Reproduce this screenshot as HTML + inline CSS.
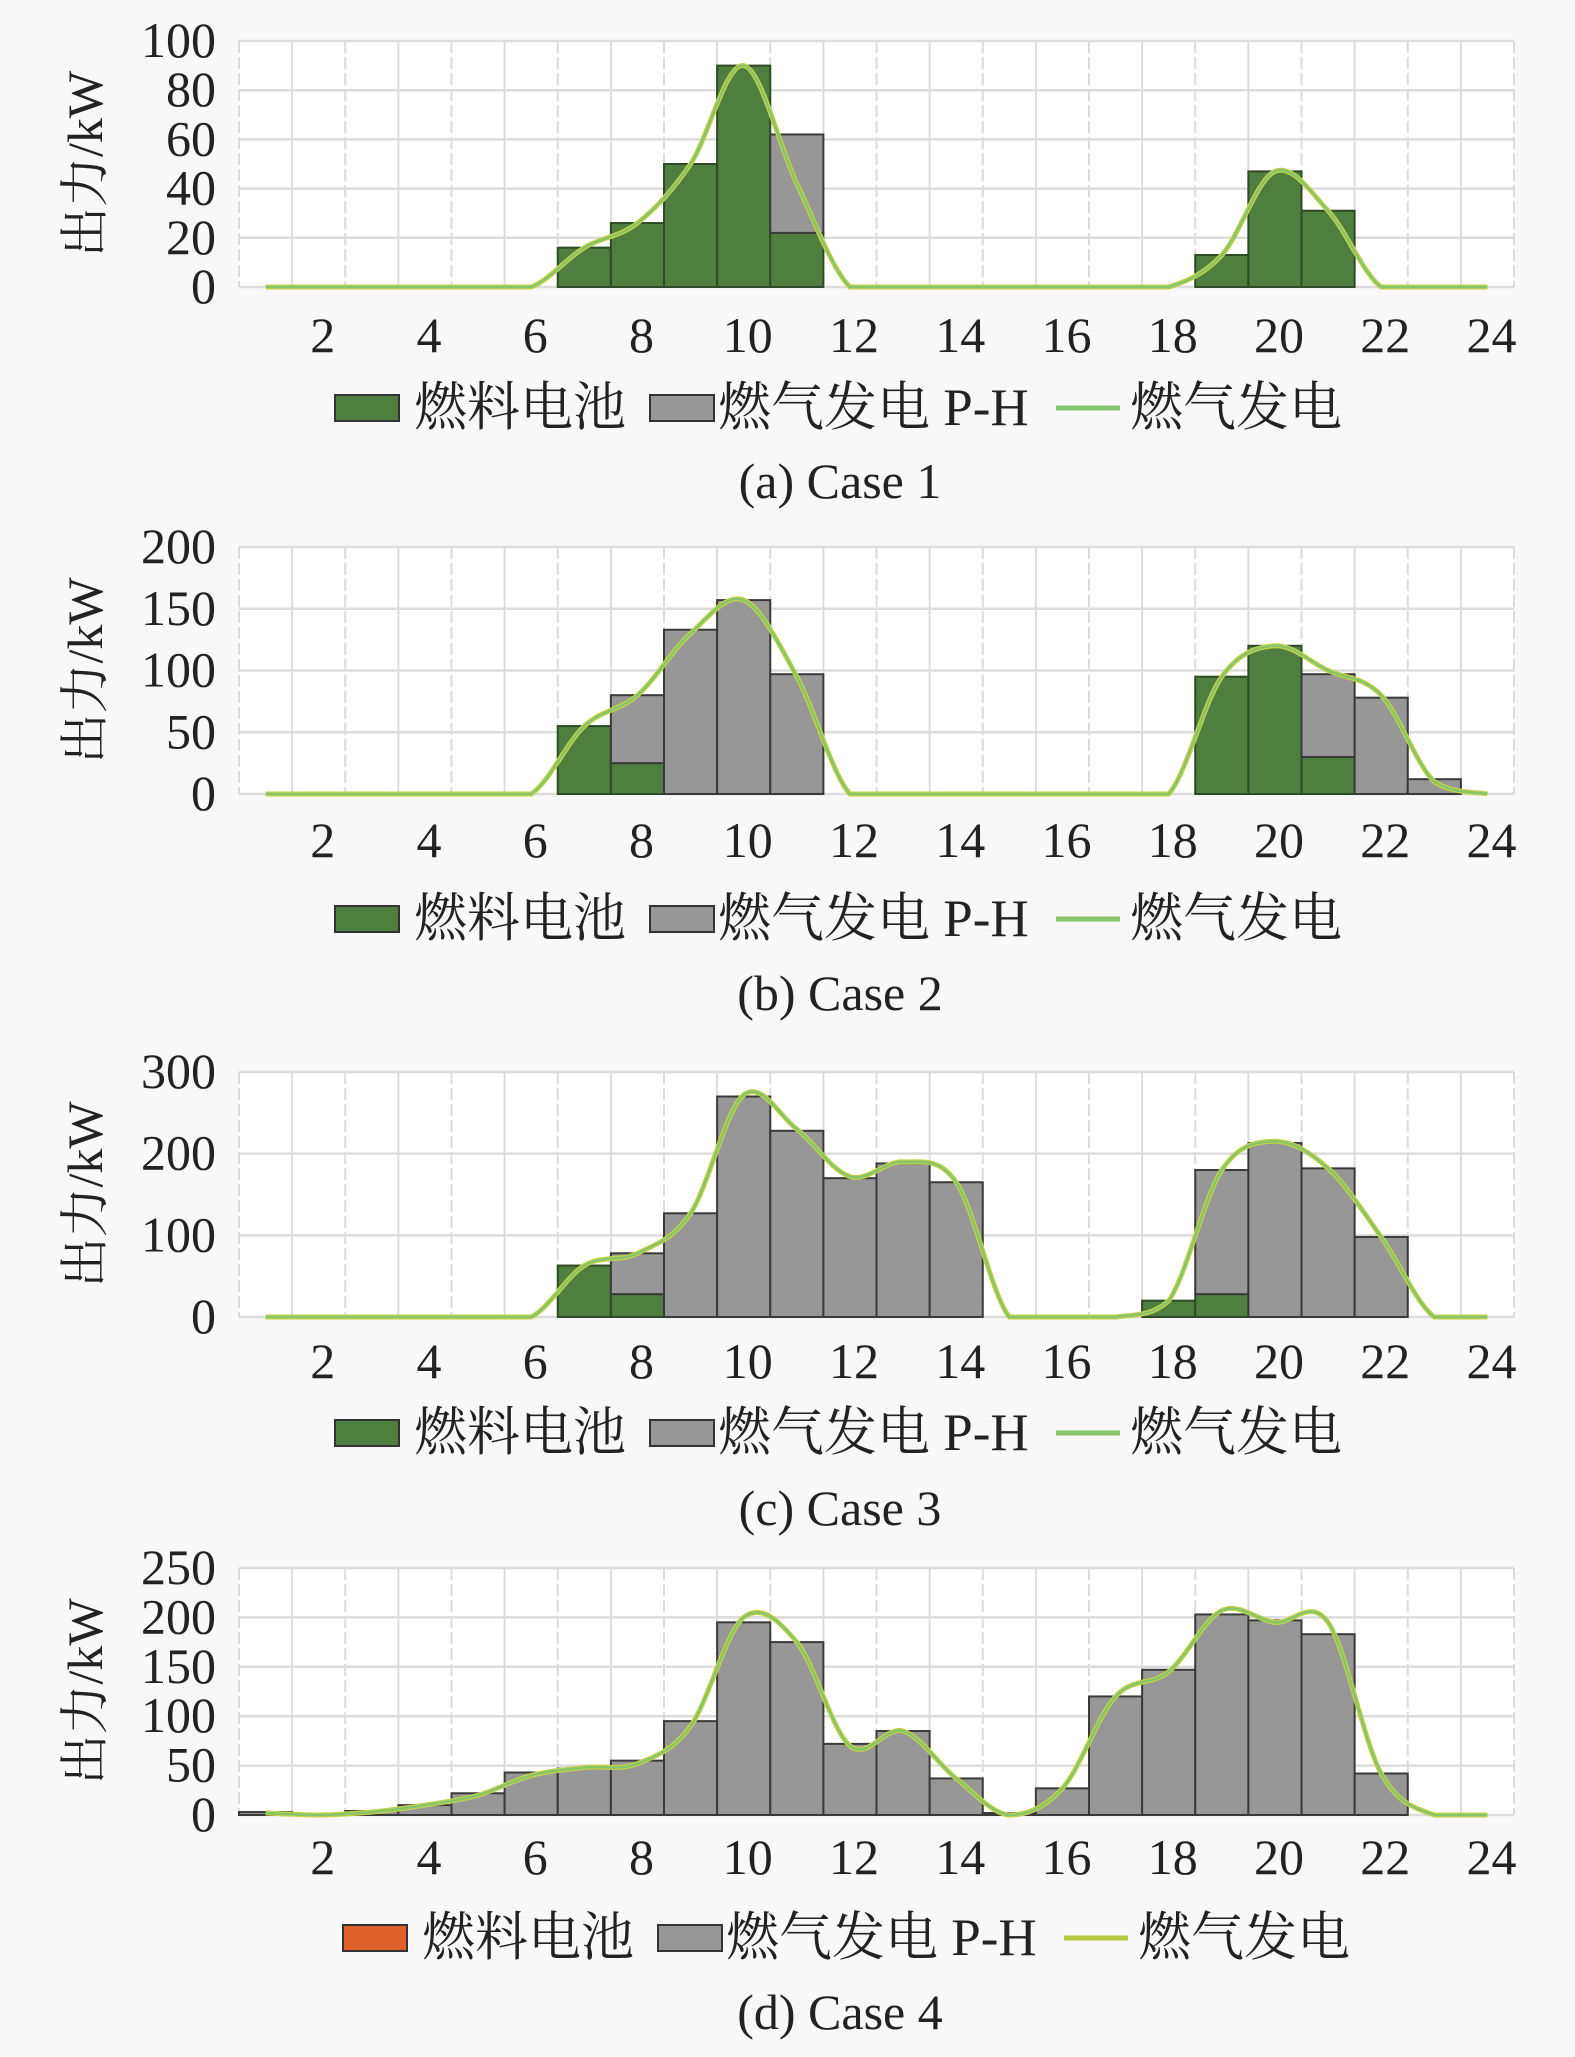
<!DOCTYPE html>
<html><head><meta charset="utf-8"><style>
html,body{margin:0;padding:0;background:#f8f8f8;}
svg{display:block;}
text{font-family:"Liberation Serif","Noto Serif CJK SC","Noto Sans CJK SC",serif;fill:#222;}
</style></head><body>
<svg id="fig" width="1575" height="2057" viewBox="0 0 1575 2057" xmlns="http://www.w3.org/2000/svg"></svg>
<script>
const hours = [1,2,3,4,5,6,7,8,9,10,11,12,13,14,15,16,17,18,19,20,21,22,23,24];
const xTickLabels = ["2","4","6","8","10","12","14","16","18","20","22","24"];
const legendLabels = ["燃料电池","燃气发电 P-H","燃气发电"];

const fuel1 = [0,0,0,0,0,0,16,26,50,90,22,0,0,0,0,0,0,0,13,47,31,0,0,0];
const ph1   = [0,0,0,0,0,0,0,0,0,0,40,0,0,0,0,0,0,0,0,0,0,0,0,0];
const gas1  = [0,0,0,0,0,0,16,26,50,90,42,0,0,0,0,0,0,0,13,47,31,0,0,0];
const yTicks1 = [0,20,40,60,80,100];

const fuel2 = [0,0,0,0,0,0,55,25,0,0,0,0,0,0,0,0,0,0,95,120,30,0,0,0];
const ph2   = [0,0,0,0,0,0,0,55,133,157,97,0,0,0,0,0,0,0,0,0,67,78,12,0];
const gas2  = [0,0,0,0,0,0,55,80,130,157,95,0,0,0,0,0,0,0,95,120,100,80,10,0];
const yTicks2 = [0,50,100,150,200];

const fuel3 = [0,0,0,0,0,0,63,28,0,0,0,0,0,0,0,0,0,20,28,0,0,0,0,0];
const ph3   = [0,0,0,0,0,0,0,50,127,270,228,170,188,165,0,0,0,0,152,213,182,98,0,0];
const gas3  = [0,0,0,0,0,0,63,78,127,272,230,172,190,165,0,0,0,20,180,215,182,98,0,0];
const yTicks3 = [0,100,200,300];

const fuel4 = [0,0,0,0,0,0,0,0,0,0,0,0,0,0,0,0,0,0,0,0,0,0,0,0];
const ph4   = [3,0,4,10,22,43,47,55,95,195,175,72,85,37,2,27,120,147,203,197,183,42,0,0];
const gas4  = [2,0,3,10,20,40,48,52,90,200,175,70,85,37,0,27,120,145,207,195,195,42,0,0];
const yTicks4 = [0,50,100,150,200,250];

const NS="http://www.w3.org/2000/svg";
const svg=document.getElementById('fig');
function mk(tag,attrs,parent){const e=document.createElementNS(NS,tag);for(const k in attrs)e.setAttribute(k,attrs[k]);(parent||svg).appendChild(e);return e;}

const panels=[
 {id:'a',caption:'(a) Case 1',fuel:fuel1,ph:ph1,gas:gas1,yt:yTicks1,top:41,zero:287,xl:334,lg:407,cap:481,fuelColor:'#4e7f3f',lgShift:0},
 {id:'b',caption:'(b) Case 2',fuel:fuel2,ph:ph2,gas:gas2,yt:yTicks2,top:547,zero:794,xl:839,lg:918,cap:993,fuelColor:'#4e7f3f',lgShift:0},
 {id:'c',caption:'(c) Case 3',fuel:fuel3,ph:ph3,gas:gas3,yt:yTicks3,top:1072,zero:1317,xl:1360,lg:1432,cap:1508,fuelColor:'#4e7f3f',lgShift:0},
 {id:'d',caption:'(d) Case 4',fuel:fuel4,ph:ph4,gas:gas4,yt:yTicks4,top:1568,zero:1815,xl:1856,lg:1937,cap:2012,fuelColor:'#e0602a',lgShift:8}
];
const X0=239,X1=1514;
const slot=(X1-X0)/hours.length;

panels.forEach(p=>{
  const g=mk('g',{});
  
  
  const ymax=p.yt[p.yt.length-1];
  const ys=v=>p.zero-(v/ymax)*(p.zero-p.top);
  const xc=h=>X0+(h-0.5)*slot;
  mk('rect',{x:X0,y:p.top,width:X1-X0,height:p.zero-p.top,fill:'#ffffff'},g);
  for(let i=0;i<=hours.length;i++){
    const l=mk('line',{x1:X0+i*slot,x2:X0+i*slot,y1:p.top,y2:p.zero,stroke:'#dcdcdc','stroke-width':2,'stroke-dasharray':i%2?'none':'12 4'},g);
    
    
  }
  p.yt.forEach(t=>{
    const l=mk('line',{x1:X0,x2:X1,y1:ys(t),y2:ys(t),stroke:'#dcdcdc','stroke-width':2.5},g);
    
    
    const tx=mk('text',{x:216,y:ys(t)+16,'text-anchor':'end','font-size':50},g);
    tx.textContent=t;
    
    
  });
  hours.forEach((h,i)=>{
    const f=p.fuel[i],q=p.ph[i];
    if(f>0){
      const r=mk('rect',{x:X0+i*slot,y:ys(f),width:slot,height:ys(0)-ys(f),fill:p.fuelColor,stroke:'#2e4a26','stroke-width':2},g);
      
      
    }
    if(q>0){
      const r=mk('rect',{x:X0+i*slot,y:ys(f+q),width:slot,height:ys(f)-ys(f+q),fill:'#979797',stroke:'#3a3a3a','stroke-width':2},g);
      
      
    }
  });
  // smooth line through gas values
  const pts=hours.map((h,i)=>[xc(h),ys(p.gas[i])]);
  let d='M'+pts[0][0]+','+pts[0][1];
  for(let i=0;i<pts.length-1;i++){
    const p0=pts[Math.max(0,i-1)],p1=pts[i],p2=pts[i+1],p3=pts[Math.min(pts.length-1,i+2)];
    const c1=[p1[0]+(p2[0]-p0[0])/6,p1[1]+(p2[1]-p0[1])/6];
    const c2=[p2[0]-(p3[0]-p1[0])/6,p2[1]-(p3[1]-p1[1])/6];
    d+=' C'+c1[0]+','+Math.min(c1[1],p.zero)+' '+c2[0]+','+Math.min(c2[1],p.zero)+' '+p2[0]+','+p2[1];
  }
  const l1=mk('path',{d:d,fill:'none',stroke:'#c9cf45','stroke-width':5},g);
  
  
  const l2=mk('path',{d:d,fill:'none',stroke:'#86c56c','stroke-width':2.5},g);
  
  
  xTickLabels.forEach((lab,k)=>{
    const h=+lab;
    const t=mk('text',{x:xc(h)+4,y:p.xl+18,'text-anchor':'middle','font-size':50},g);
    t.textContent=lab;
    
    
  });
  const yt=mk('text',{x:0,y:0,'text-anchor':'middle','font-size':50,transform:'translate(102,'+((p.top+p.zero)/2)+') rotate(-90)'},g);
  yt.textContent='出力/kW';
  
  
  // legend
  const s=p.lgShift, ly=p.lg;
  const lg=mk('g',{},g);
  
  
  const s1=mk('rect',{x:335+s,y:ly-12,width:64,height:26,fill:p.fuelColor,stroke:'#333','stroke-width':2},lg);
  
  
  const t1=mk('text',{x:414+s,y:ly+18,'font-size':53},lg);t1.textContent=legendLabels[0];
  
  
  const s2=mk('rect',{x:650+s,y:ly-12,width:64,height:26,fill:'#979797',stroke:'#333','stroke-width':2},lg);
  
  
  const t2=mk('text',{x:718+s,y:ly+18,'font-size':53},lg);t2.textContent=legendLabels[1];
  
  
  const s3=mk('line',{x1:1056+s,x2:1120+s,y1:ly+1,y2:ly+1,stroke:p.id==='d'?'#b7c640':'#86c56c','stroke-width':5},lg);
  
  
  const t3=mk('text',{x:1130+s,y:ly+18,'font-size':53},lg);t3.textContent=legendLabels[2];
  
  
  const cp=mk('text',{x:840,y:p.cap+17,'text-anchor':'middle','font-size':50},g);
  cp.textContent=p.caption;
  
  
});
</script>
</body></html>
